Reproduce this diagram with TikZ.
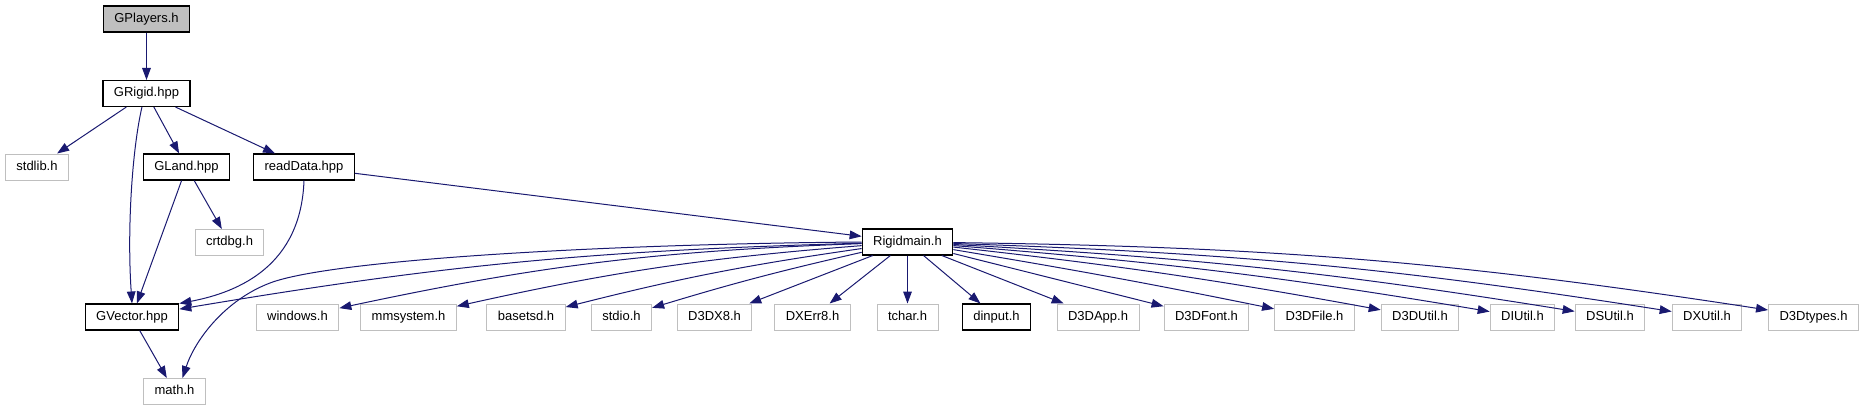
\documentclass[tikz,border=0pt]{standalone}
\usepackage{fontspec}
\setmainfont{Liberation Sans}
\usetikzlibrary{arrows.meta,positioning}
\definecolor{edgeblue}{RGB}{25,25,112}
\definecolor{extgray}{RGB}{191,191,191}
\definecolor{rootgray}{RGB}{191,191,191}

\begin{document}
\begin{tikzpicture}[
  x=0.75pt, y=-0.75pt,
  filebox/.style={rectangle, draw=black, line width=0.8pt, inner xsep=8.25pt, inner ysep=0pt, minimum height=19.5pt, text height=7.1pt, text depth=2pt, font=\fontsize{9.75}{11}\selectfont},
  extbox/.style={filebox, draw=extgray, line width=0.75pt},
  rootbox/.style={filebox, fill=rootgray},
  dep/.style={-{Triangle[length=9pt,width=6.5pt]}, line width=0.75pt, color=edgeblue}
]
\useasboundingbox (0,0) rectangle (1865,411);

% upper levels
\node[rootbox] (gplayers) at (146.5,19) {GPlayers.h};
\node[filebox] (grigid) at (146.5,93.5) {GRigid.hpp};
\node[extbox] (stdlib) at (37,167) {stdlib.h};
\node[filebox] (gland) at (186.5,167) {GLand.hpp};
\node[filebox] (readdata) at (304,167) {readData.hpp};
\node[extbox] (crtdbg) at (229.5,242.5) {crtdbg.h};
\node[filebox] (rigidmain) at (907.5,242) {Rigidmain.h};

% bottom row
\node[filebox] (gvector) at (132,317) {GVector.hpp};
\node[extbox] (windows) at (297.5,317) {windows.h};
\node[extbox] (mmsystem) at (408.5,317) {mmsystem.h};
\node[extbox] (basetsd) at (526,317) {basetsd.h};
\node[extbox] (stdio) at (621.5,317) {stdio.h};
\node[extbox] (d3dx8) at (714.5,317) {D3DX8.h};
\node[extbox] (dxerr8) at (812.5,317) {DXErr8.h};
\node[extbox] (tchar) at (907.5,317) {tchar.h};
\node[filebox] (dinput) at (996.5,317) {dinput.h};
\node[extbox] (d3dapp) at (1098,317) {D3DApp.h};
\node[extbox] (d3dfont) at (1206.5,317) {D3DFont.h};
\node[extbox] (d3dfile) at (1314.5,317) {D3DFile.h};
\node[extbox] (d3dutil) at (1420,317) {D3DUtil.h};
\node[extbox] (diutil) at (1522.5,317) {DIUtil.h};
\node[extbox] (dsutil) at (1610,317) {DSUtil.h};
\node[extbox] (dxutil) at (1707,317) {DXUtil.h};
\node[extbox] (d3dtypes) at (1813.5,317) {D3Dtypes.h};
\node[extbox] (mathh) at (174.5,391.5) {math.h};

% includes
\draw[dep] (gplayers) -- (grigid);
\draw[dep] (grigid) -- (stdlib);
\draw[dep] ([xshift=-3.4pt]grigid.south) .. controls (132,150) and (127,230) .. (gvector.north);
\draw[dep] (grigid) -- (gland);
\draw[dep] (grigid) -- (readdata);
\draw[dep] (gland) -- (gvector);
\draw[dep] (gland) -- (crtdbg);
\draw[dep] (readdata.south) .. controls (301,265) and (240,292) .. (gvector.north east);
\draw[dep] (readdata) -- (rigidmain);
\draw[dep] (gvector) -- (mathh);

\draw[dep] (rigidmain) to[bend right=4] (gvector);
\draw[dep] (rigidmain.west) .. controls (600,244) and (330,260) .. (270,283) .. controls (225,300) and (195,340) .. ([xshift=6pt]mathh.north);
\draw[dep] (rigidmain) to[bend right=5] (windows);
\draw[dep] (rigidmain) to[bend right=4] (mmsystem);
\draw[dep] (rigidmain) to[bend right=3] (basetsd);
\draw[dep] (rigidmain) to[bend right=2] (stdio);
\draw[dep] (rigidmain) -- (d3dx8);
\draw[dep] (rigidmain) -- (dxerr8);
\draw[dep] (rigidmain) -- (tchar);
\draw[dep] (rigidmain) -- (dinput);
\draw[dep] (rigidmain) -- (d3dapp);
\draw[dep] (rigidmain) -- (d3dfont);
\draw[dep] (rigidmain) to[bend left=1] (d3dfile);
\draw[dep] (rigidmain) to[bend left=2] (d3dutil);
\draw[dep] (rigidmain) to[bend left=2.5] (diutil);
\draw[dep] (rigidmain) to[bend left=3] (dsutil);
\draw[dep] (rigidmain) to[bend left=3.5] (dxutil);
\draw[dep] (rigidmain) to[bend left=4] (d3dtypes);
\end{tikzpicture}
\end{document}
